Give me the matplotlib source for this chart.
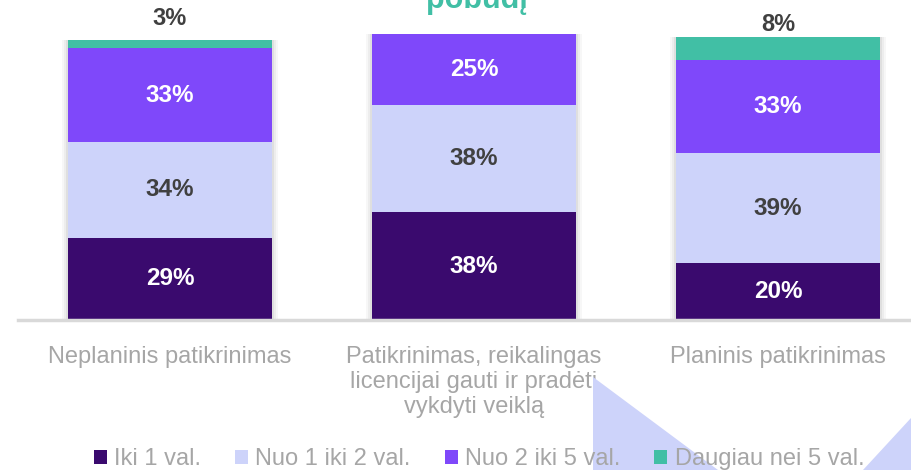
import matplotlib.pyplot as plt
from matplotlib.patches import Polygon, Patch

plt.rcParams['font.family'] = ['Liberation Sans', 'DejaVu Sans']

categories = ["Neplaninis patikrinimas",
              "Patikrinimas, reikalingas\nlicencijai gauti ir pradėti\nvykdyti veiklą",
              "Planinis patikrinimas"]
series_names = ["Iki 1 val.", "Nuo 1 iki 2 val.", "Nuo 2 iki 5 val.", "Daugiau nei 5 val."]
iki1 = [29, 38, 20]
nuo1_2 = [34, 38, 39]
nuo2_5 = [33, 25, 33]
daugiau5 = [3, 0, 8]
values = [iki1, nuo1_2, nuo2_5, daugiau5]
colors = ["#3A0A6E", "#CDD3FA", "#7F48FA", "#41BFA5"]
label_colors = ["white", "#404040", "white", "#404040"]
# offset of the small top labels above the bar top (data units)
top_offset = [7.5, 0, 4.5]

W, H = 911, 470
fig = plt.figure(figsize=(W / 100, H / 100), dpi=100)

# decorative triangles in background
tri1 = Polygon([(593 / W, 1 - 377 / H), (593 / W, 0), (718 / W, 0)], closed=True,
               transform=fig.transFigure, facecolor="#CDD3FA", edgecolor="none", zorder=0)
tri2 = Polygon([(863 / W, 0), (1, 0), (1, 1 - 418 / H)], closed=True,
               transform=fig.transFigure, facecolor="#CDD3FA", edgecolor="none", zorder=0)
fig.patches.extend([tri1, tri2])

ax = fig.add_axes([18 / W, 1 - 320 / H, (W - 18) / W, 320 / H])
ax.patch.set_alpha(0)
x = [0, 1, 2]
totals = [sum(v) for v in zip(*values)]

# soft shadow around bars
for extra, a in [(0.04, 0.03), (0.027, 0.04), (0.014, 0.06)]:
    ax.bar(x, totals, width=0.67 + extra, color="black", alpha=a, zorder=1, linewidth=0)

bottom = [0, 0, 0]
for vals, col, lc in zip(values, colors, label_colors):
    ax.bar(x, vals, bottom=bottom, width=0.67, color=col, zorder=2, linewidth=0)
    for i, v in enumerate(vals):
        if v == 0:
            continue
        if v < 10:
            ax.text(x[i], bottom[i] + v + top_offset[i], f"{v}%", ha="center", va="center",
                    color="#404040", fontsize=17, fontweight="bold")
        else:
            ax.text(x[i], bottom[i] + v / 2, f"{v}%", ha="center", va="center",
                    color=lc, fontsize=17.5, fontweight="bold", zorder=3)
    bottom = [b + v for b, v in zip(bottom, vals)]

ax.set_xlim(-0.5, 2.4375)
ax.set_ylim(0, 320 / 283 * 100)
for s in ["top", "right", "left"]:
    ax.spines[s].set_visible(False)
ax.spines["bottom"].set_color("#D9D9D9")
ax.spines["bottom"].set_linewidth(2.5)
ax.spines["bottom"].set_zorder(3)
ax.set_yticks([])
ax.set_xticks(x)
ax.set_xticklabels(categories, fontsize=17, color="#A6A6A6", linespacing=1.17, va="top")
ax.tick_params(axis="x", length=0, pad=19)

fig.text(477 / W, 1 - 8 / H, "pobūdį", ha="center", va="baseline",
         color="#41BFA5", fontsize=22, fontweight="bold")

handles = [Patch(facecolor=c, edgecolor="none") for c in colors]
fig.legend(handles, series_names, loc="center", bbox_to_anchor=(479 / W, 1 - 459 / H),
           ncol=4, frameon=False, fontsize=17, labelcolor="#A6A6A6",
           handlelength=0.55, handleheight=0.55, handletextpad=0.3, columnspacing=1.45)

fig.savefig("out.png", dpi=100)
